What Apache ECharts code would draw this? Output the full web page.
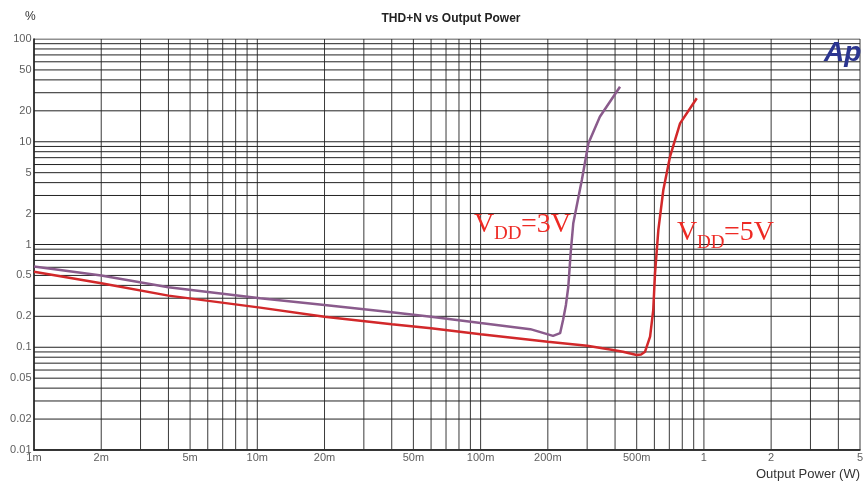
<!DOCTYPE html>
<html>
<head>
<meta charset="utf-8">
<script src="https://cdn.jsdelivr.net/npm/echarts@6/dist/echarts.min.js"></script>
<style>html,body{margin:0;padding:0;background:#fff}#c{width:865px;height:485px}</style>
</head>
<body>
<div id="c"></div>
<script>
const xTickValues = [0.001,0.002,0.005,0.01,0.02,0.05,0.1,0.2,0.5,1,2,5];
const xTickLabels = ['1m','2m','5m','10m','20m','50m','100m','200m','500m','1','2','5'];
const yTickValues = [100,50,20,10,5,2,1,0.5,0.2,0.1,0.05,0.02,0.01];
const yTickLabels = ['100','50','20','10','5','2','1','0.5','0.2','0.1','0.05','0.02','0.01'];

const power3V = [0.001,0.002,0.004,0.0103,0.02,0.04,0.06,0.1,0.167,0.211,0.227,0.234,0.241,0.247,0.253,0.26,0.284,0.304,0.342,0.421];
const thd3V   = [0.61,0.50,0.383,0.30,0.258,0.219,0.198,0.172,0.150,0.129,0.137,0.184,0.258,0.388,0.82,1.61,4.24,9.66,17.5,34.3];

const power5V = [0.001,0.002,0.004,0.0103,0.02,0.04,0.06,0.1,0.2,0.3,0.392,0.434,0.50,0.523,0.545,0.574,0.593,0.604,0.625,0.658,0.705,0.782,0.929];
const thd5V   = [0.544,0.419,0.318,0.243,0.198,0.167,0.153,0.134,0.113,0.1035,0.094,0.0905,0.084,0.085,0.0905,0.127,0.230,0.524,1.38,3.39,7.16,15.1,26.5];

const FONT = 'Liberation Sans, Arial, sans-serif';
const SERIF = 'Liberation Serif, Times New Roman, serif';
const X_MIN = 0.001, X_MAX = 5, Y_MIN = 0.01, Y_MAX = 100;

function decadeGrid(minV, maxV) {
  const vals = [];
  for (let e = -4; e <= 3; e++) {
    for (let k = 1; k <= 9; k++) {
      const v = parseFloat((k * Math.pow(10, e)).toPrecision(6));
      if (v >= minV * 0.9999 && v <= maxV * 1.0001) vals.push(v);
    }
  }
  return vals;
}

const vLines = [];
decadeGrid(X_MIN, X_MAX).forEach(v => { vLines.push([v, Y_MIN], [v, Y_MAX], ['-', '-']); });
const hLines = [];
decadeGrid(Y_MIN, Y_MAX).forEach(v => { hLines.push([X_MIN, v], [X_MAX, v], ['-', '-']); });

const chart = echarts.init(document.getElementById('c'), null, {renderer: 'canvas'});
chart.setOption({
  animation: false,
  backgroundColor: '#fff',
  title: {
    text: 'THD+N vs Output Power', left: 446, top: 8, textAlign: 'center',
    textStyle: {fontFamily: FONT, fontSize: 12, fontWeight: 'bold', color: '#222'}
  },
  grid: {left: 34, right: 5, top: 39, bottom: 35},
  xAxis: {
    type: 'log', logBase: 10, min: X_MIN, max: X_MAX,
    axisLine: {show: true, lineStyle: {color: '#000', width: 1.5}},
    axisTick: {show: false}, axisLabel: {show: false}, splitLine: {show: false}
  },
  yAxis: {
    type: 'log', logBase: 10, min: Y_MIN, max: Y_MAX,
    axisLine: {show: true, lineStyle: {color: '#000', width: 1.5}},
    axisTick: {show: false}, axisLabel: {show: false}, splitLine: {show: false}
  },
  graphic: [
    {type: 'text', left: 25, top: 11, style: {text: '%', font: '12px ' + FONT, fill: '#333'}},
    {type: 'text', right: 5, top: 468, style: {text: 'Output Power (W)', font: '13px ' + FONT, fill: '#333'}},
    {type: 'text', left: 824, top: 39, style: {text: 'Ap', font: 'italic bold 28px ' + FONT, fill: '#2b3590'}, z: 100},
    {type: 'text', left: 474, top: 211, style: {text: 'V', font: '28px ' + SERIF, fill: '#ee2a24'}, z: 100},
    {type: 'text', left: 494, top: 225, style: {text: 'DD', font: '19px ' + SERIF, fill: '#ee2a24'}, z: 100},
    {type: 'text', left: 521, top: 211, style: {text: '=3V', font: '28px ' + SERIF, fill: '#ee2a24'}, z: 100},
    {type: 'text', left: 677, top: 219, style: {text: 'V', font: '28px ' + SERIF, fill: '#ee2a24'}, z: 100},
    {type: 'text', left: 697, top: 234, style: {text: 'DD', font: '19px ' + SERIF, fill: '#ee2a24'}, z: 100},
    {type: 'text', left: 724, top: 219, style: {text: '=5V', font: '28px ' + SERIF, fill: '#ee2a24'}, z: 100}
  ],
  series: [
    {
      type: 'line', silent: true, z: 1, symbol: 'none', connectNulls: false,
      lineStyle: {color: '#3a3a3a', width: 1}, data: vLines
    },
    {
      type: 'line', silent: true, z: 1, symbol: 'none', connectNulls: false,
      lineStyle: {color: '#222', width: 1}, data: hLines
    },
    {
      type: 'scatter', silent: true, z: 2, symbol: 'circle', symbolSize: 1,
      itemStyle: {color: 'rgba(0,0,0,0)'},
      label: {show: true, position: 'bottom', distance: 2, formatter: p => xTickLabels[p.dataIndex],
              color: '#333', fontSize: 11, fontFamily: FONT},
      data: xTickValues.map(v => [v, Y_MIN])
    },
    {
      type: 'scatter', silent: true, z: 2, symbol: 'circle', symbolSize: 1,
      itemStyle: {color: 'rgba(0,0,0,0)'},
      label: {show: true, position: 'left', distance: 2, formatter: p => yTickLabels[p.dataIndex],
              color: '#333', fontSize: 11, fontFamily: FONT},
      data: yTickValues.map(v => [X_MIN, v])
    },
    {
      name: 'VDD=3V', type: 'line', z: 5, symbol: 'none', smooth: false,
      lineStyle: {color: '#8a5b8c', width: 2.5},
      data: power3V.map((p, i) => [p, thd3V[i]])
    },
    {
      name: 'VDD=5V', type: 'line', z: 6, symbol: 'none', smooth: false,
      lineStyle: {color: '#d2282a', width: 2.5},
      data: power5V.map((p, i) => [p, thd5V[i]])
    }
  ]
});
</script>
</body>
</html>
